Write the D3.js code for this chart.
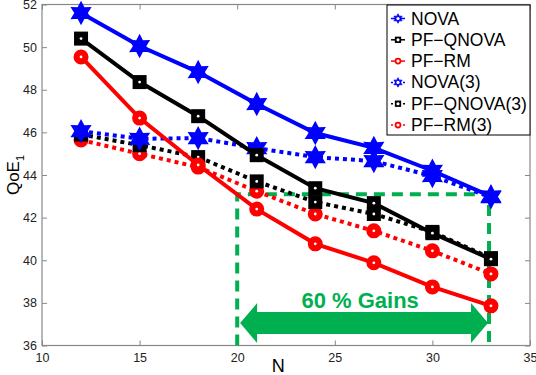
<!DOCTYPE html>
<html>
<head>
<meta charset="utf-8">
<script src="https://cdn.jsdelivr.net/npm/d3@7"></script>
<style>
  body { margin: 0; background: #fff; }
  svg text { font-family: "Liberation Sans", Arial, sans-serif; }
</style>
</head>
<body>
<svg width="536" height="375"></svg>
<script>
// data
var N = [12, 15, 18, 21, 24, 27, 30, 33];
var nova       = [51.6, 50.05, 48.83, 47.33, 45.97, 45.27, 44.2, 43.0];
var pfQnova    = [50.4, 48.36, 46.76, 44.93, 43.38, 42.68, 41.27, 40.05];
var pfRm       = [49.54, 46.67, 44.47, 42.4, 40.77, 39.88, 38.75, 37.86];
var nova3      = [46.06, 45.7, 45.73, 45.26, 44.84, 44.65, 43.95, 42.96];
var pfQnova3   = [45.9, 45.4, 44.84, 43.7, 42.73, 42.17, 41.33, 40.1];
var pfRm3      = [45.64, 45.0, 44.37, 43.24, 42.17, 41.38, 40.44, 39.36];
var seriesNames = ['NOVA', 'PF\u2212QNOVA', 'PF\u2212RM', 'NOVA(3)', 'PF\u2212QNOVA(3)', 'PF\u2212RM(3)'];
var xTicks = [10, 15, 20, 25, 30, 35];
var yTicks = [36, 38, 40, 42, 44, 46, 48, 50, 52];

var series = [
  {name: seriesNames[0], vals: nova,     color: '#0000ff', marker: 'star',   dotted: false},
  {name: seriesNames[1], vals: pfQnova,  color: '#000000', marker: 'square', dotted: false},
  {name: seriesNames[2], vals: pfRm,     color: '#ff0000', marker: 'circle', dotted: false},
  {name: seriesNames[3], vals: nova3,    color: '#0000ff', marker: 'star',   dotted: true},
  {name: seriesNames[4], vals: pfQnova3, color: '#000000', marker: 'square', dotted: true},
  {name: seriesNames[5], vals: pfRm3,    color: '#ff0000', marker: 'circle', dotted: true}
];

var svg = d3.select('svg');
var plot = {l: 42, r: 530, t: 4.5, b: 345.5};
var green = '#00b050';

var x = d3.scaleLinear().domain([10, 35]).range([plot.l, plot.r]);
var y = d3.scaleLinear().domain([36, 52]).range([plot.b, plot.t]);

// axes box with inward ticks on all four sides
var axisColor = '#888';
var g = svg.append('g');
function styleAxis(sel) {
  sel.select('.domain').remove();
  sel.selectAll('.tick line').attr('stroke', axisColor);
  sel.selectAll('.tick text').attr('fill', '#222').style('font-size', '12.5px');
}
g.append('g').attr('transform', 'translate(0,' + plot.b + ')')
  .call(d3.axisBottom(x).tickValues(xTicks).tickSize(-5).tickPadding(8))
  .call(styleAxis);
g.append('g').attr('transform', 'translate(0,' + plot.t + ')')
  .call(d3.axisTop(x).tickValues(xTicks).tickSize(-5).tickFormat(''))
  .call(styleAxis);
g.append('g').attr('transform', 'translate(' + plot.l + ',0)')
  .call(d3.axisLeft(y).tickValues(yTicks).tickSize(-5).tickPadding(5))
  .call(styleAxis);
g.append('g').attr('transform', 'translate(' + plot.r + ',0)')
  .call(d3.axisRight(y).tickValues(yTicks).tickSize(-5).tickFormat(''))
  .call(styleAxis);
g.append('rect')
  .attr('x', plot.l).attr('y', plot.t)
  .attr('width', plot.r - plot.l).attr('height', plot.b - plot.t)
  .attr('fill', 'none').attr('stroke', axisColor).attr('stroke-width', 1.2);

// axis labels
svg.append('text').attr('x', x(22.1)).attr('y', 372)
  .attr('text-anchor', 'middle').style('font-size', '18px').text('N');
var yl = svg.append('text')
  .attr('transform', 'translate(19,' + ((plot.t + plot.b) / 2) + ') rotate(-90)')
  .attr('text-anchor', 'middle').style('font-size', '17px');
yl.append('tspan').text('QoE');
yl.append('tspan').attr('dy', 5).style('font-size', '11px').text('1');

// green annotation: dashed box, double arrow, text
var ann = svg.append('g');
ann.append('path')
  .attr('d', 'M' + x(20) + ',' + plot.b + 'V' + y(43.1) + 'H' + x(32.9) + 'V' + plot.b)
  .attr('fill', 'none').attr('stroke', green).attr('stroke-width', 4)
  .attr('stroke-dasharray', '11,7');

var aL = x(20.15), aR = x(32.85), aY = y(37.05);
var headW = 17, headH = 20, shaftH = 11;
ann.append('path')
  .attr('d', [
    'M', aL, aY,
    'L', aL + headW, aY - headH,
    'L', aL + headW, aY - shaftH,
    'L', aR - headW, aY - shaftH,
    'L', aR - headW, aY - headH,
    'L', aR, aY,
    'L', aR - headW, aY + headH,
    'L', aR - headW, aY + shaftH,
    'L', aL + headW, aY + shaftH,
    'L', aL + headW, aY + headH, 'Z'].join(' '))
  .attr('fill', green);
ann.append('text').attr('x', x(26.3)).attr('y', y(37.75))
  .attr('text-anchor', 'middle').attr('fill', green)
  .style('font-size', '22px').style('font-weight', 'bold')
  .text('60 % Gains');

// series
var line = d3.line().x(function(d, i) { return x(N[i]); }).y(function(d) { return y(d); });
var star6 = d3.symbol().type({
  draw: function(ctx, size) {
    var R = Math.sqrt(size) * 0.75, r = R * 0.55;
    for (var k = 0; k < 12; k++) {
      var a = Math.PI / 6 * k - Math.PI / 2;
      var rr = k % 2 ? r : R;
      if (k === 0) ctx.moveTo(rr * Math.cos(a), rr * Math.sin(a));
      else ctx.lineTo(rr * Math.cos(a), rr * Math.sin(a));
    }
    ctx.closePath();
  }
});

function drawMarker(sel, s, cx, cy, scale, legend) {
  var m = sel.append('g').attr('transform', 'translate(' + cx + ',' + cy + ') scale(' + scale + ')');
  if (s.marker === 'star') {
    m.append('path').attr('d', star6.size(200)()).attr('fill', s.color)
      .attr('stroke', s.color).attr('stroke-width', 1.5);
  } else if (s.marker === 'square') {
    m.append('rect').attr('x', -5.5).attr('y', -5.5).attr('width', 11).attr('height', 11)
      .attr('fill', s.color).attr('stroke', s.color).attr('stroke-width', 3);
  } else {
    m.append('circle').attr('r', 6).attr('fill', s.color)
      .attr('stroke', s.color).attr('stroke-width', 3);
  }
  // small white centre, as in the source figure (not on plotted stars)
  if (legend) m.append('circle').attr('r', 3.5).attr('fill', '#fff');
  else if (s.marker !== 'star') m.append('circle').attr('r', 1.4).attr('fill', '#fff');
}

var order = [5, 4, 3, 2, 1, 0];
order.forEach(function(idx) {
  var s = series[idx];
  var sg = svg.append('g');
  sg.append('path').datum(s.vals).attr('d', line)
    .attr('fill', 'none').attr('stroke', s.color).attr('stroke-width', 4)
    .attr('stroke-dasharray', s.dotted ? '4,4' : null);
  s.vals.forEach(function(v, i) { drawMarker(sg, s, x(N[i]), y(v), 1, false); });
});

// legend
var lg = svg.append('g');
var lx = 387, ly = 5, lw = 143, lh = 130;
lg.append('rect').attr('x', lx).attr('y', ly).attr('width', lw).attr('height', lh)
  .attr('fill', '#fff').attr('stroke', '#000').attr('stroke-width', 1);
series.forEach(function(s, i) {
  var yy = ly + 13.5 + i * 21.3;
  lg.append('line').attr('x1', lx + 4).attr('x2', lx + 18).attr('y1', yy).attr('y2', yy)
    .attr('stroke', s.color).attr('stroke-width', 1.5)
    .attr('stroke-dasharray', s.dotted ? '2,2' : null);
  drawMarker(lg, s, lx + 11, yy, 0.45, true);
  lg.append('text').attr('x', lx + 24).attr('y', yy + 6)
    .style('font-size', '17.5px').text(s.name);
});
</script>
</body>
</html>
